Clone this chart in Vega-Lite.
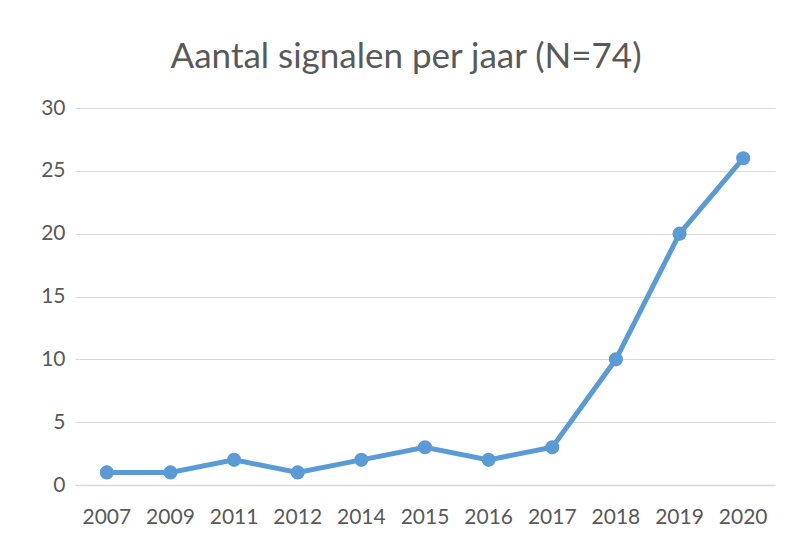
{
  "$schema": "https://vega.github.io/schema/vega-lite/v6.json",
  "autosize": "none",
  "width": 700,
  "height": 377,
  "padding": {"left": 75, "top": 108, "right": 19, "bottom": 55},
  "background": "white",
  "title": {
    "text": "Aantal signalen per jaar (N=74)",
    "anchor": "middle",
    "dx": -19,
    "offset": 22,
    "fontSize": 35,
    "font": "Lato",
    "fontWeight": "normal",
    "color": "#595959"
  },
  "data": {
    "values": [
      {"jaar": "2007", "aantal": 1},
      {"jaar": "2009", "aantal": 1},
      {"jaar": "2011", "aantal": 2},
      {"jaar": "2012", "aantal": 1},
      {"jaar": "2014", "aantal": 2},
      {"jaar": "2015", "aantal": 3},
      {"jaar": "2016", "aantal": 2},
      {"jaar": "2017", "aantal": 3},
      {"jaar": "2018", "aantal": 10},
      {"jaar": "2019", "aantal": 20},
      {"jaar": "2020", "aantal": 26}
    ]
  },
  "mark": {"type": "line", "color": "#5b9bd5", "strokeWidth": 5, "point": {"filled": true, "size": 200, "color": "#5b9bd5", "opacity": 1}},
  "encoding": {
    "x": {
      "field": "jaar", "type": "ordinal", "title": null,
      "scale": {"type": "band", "paddingInner": 0, "paddingOuter": 0},
      "axis": {"labelAngle": 0, "labelFont": "Lato", "labelFontSize": 21, "labelColor": "#595959", "labelPadding": 21, "ticks": false, "domainColor": "#d9d9d9", "domainWidth": 1.5, "grid": false}
    },
    "y": {
      "field": "aantal", "type": "quantitative", "title": null,
      "scale": {"domain": [0, 30]},
      "axis": {"values": [0, 5, 10, 15, 20, 25, 30], "labelFont": "Lato", "labelFontSize": 21, "labelColor": "#595959", "labelPadding": 10, "ticks": false, "domain": false, "gridColor": "#d9d9d9", "gridWidth": 1.2}
    }
  },
  "config": {"view": {"stroke": null}}
}
